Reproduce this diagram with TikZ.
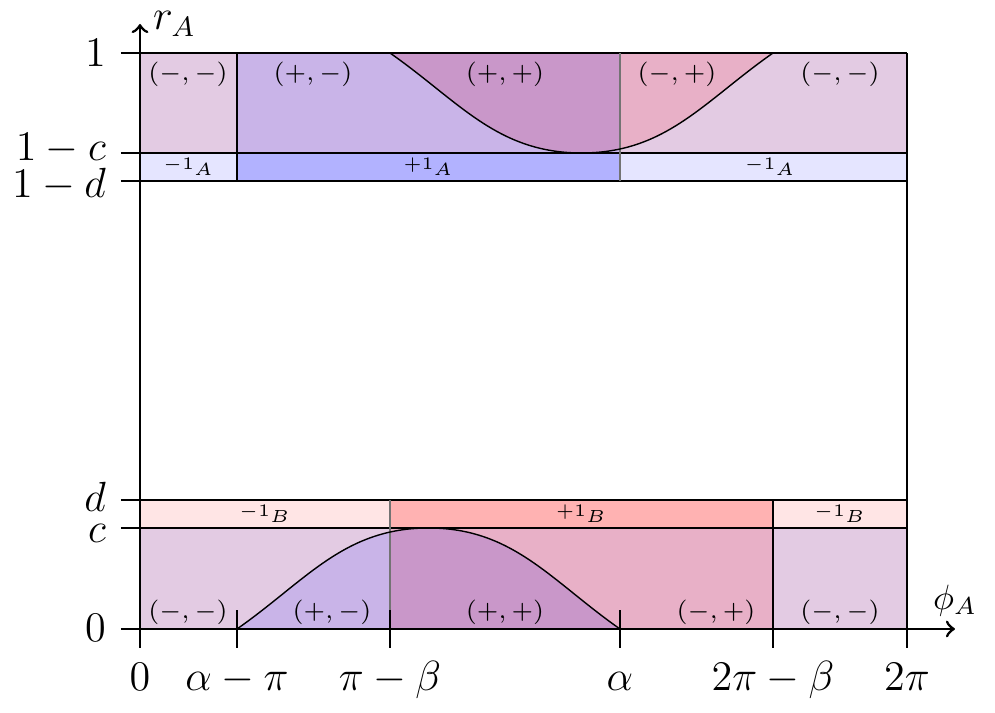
\documentclass[tikz,border=0pt]{standalone}
\usepackage{amssymb,amsmath}
\usepackage{tikz}

\definecolor{mmfill}{HTML}{E3CBE3}
\definecolor{pmfill}{HTML}{C9B4E8}
\definecolor{ppfill}{HTML}{C997C9}
\definecolor{mpfill}{HTML}{E8B0C7}
\newcommand{\lowhump}{(0.97,0) to[out=35,in=180] (2.885,1.01) to[out=0,in=145] (4.80,0)}
\newcommand{\highdip}{(2.50,5.76) to[out=-35,in=180] (4.415,4.76) to[out=0,in=-145] (6.33,5.76)}

\begin{document}
\begin{tikzpicture}[
    axis/.style={thick},
    region/.style={font=\scriptsize},
    striplbl/.style={font=\tiny},
    ticklbl/.style={font=\large},
    ylbl/.style={font=\large, inner sep=1pt, anchor=base east}]
    \useasboundingbox (-1.40,-0.84) rectangle (8.55,6.29);
        % bands
        \fill [mmfill] (0,4.76) rectangle (7.67,5.76);
        \fill [mmfill] (0,0) rectangle (7.67,1.01);
        \fill [pmfill] (0.97,4.76) rectangle (4.80,5.76);
        \fill [mpfill] (2.50,0) rectangle (6.33,1.01);
        \begin{scope}
            \clip (0.97,4.76) rectangle (4.80,5.76);
            \fill [ppfill] \highdip -- cycle;
        \end{scope}
        \begin{scope}
            \clip (4.80,4.76) rectangle (7.67,5.76);
            \fill [mpfill] \highdip -- cycle;
        \end{scope}
        \begin{scope}
            \clip (0,0) rectangle (2.50,1.01);
            \fill [pmfill] \lowhump -- cycle;
        \end{scope}
        \begin{scope}
            \clip (2.50,0) rectangle (6.33,1.01);
            \fill [ppfill] \lowhump -- cycle;
        \end{scope}
        % strips
        \fill [blue!10] (0,4.48) rectangle (0.97,4.76);
        \fill [blue!30] (0.97,4.48) rectangle (4.80,4.76);
        \fill [blue!10] (4.80,4.48) rectangle (7.67,4.76);
        \fill [red!10] (0,1.01) rectangle (2.50,1.29);
        \fill [red!30] (2.50,1.01) rectangle (6.33,1.29);
        \fill [red!10] (6.33,1.01) rectangle (7.67,1.29);
        % edges
        \foreach \y in {1.01,1.29,4.48,4.76,5.76} { \draw (0,\y) -- (7.67,\y); }
        \draw (0.97,4.48) -- (0.97,5.76);
        \draw [black!55] (4.80,4.48) -- (4.80,5.76);
        \draw [black!55] (2.50,0) -- (2.50,1.29);
        \draw (6.33,0) -- (6.33,1.29);
        \draw (7.67,0) -- (7.67,5.76);
        \draw \lowhump;
        \draw \highdip;
        % axes and ticks
        \draw [axis,->] (0,0) -- (8.15,0) node [above] (phiA) {$\phi_A$};
        \draw [axis,->] (0,0) -- (0,6.05) node [right, font=\large] (rA) {$r_A$};
        \foreach \x in {0,0.97,2.50,4.80,6.33,7.67} { \draw [axis] (\x,-0.19) -- (\x,0.19); }
        \foreach \y in {0,1.01,1.29,4.48,4.76,5.76} { \draw [axis] (-0.19,\y) -- (0.19,\y); }
        % tick labels
        \node [ticklbl, anchor=base] (x0) at (0,-0.62) {$0$};
        \node [ticklbl, anchor=base] (x1) at (0.97,-0.62) {$\alpha-\pi$};
        \node [ticklbl, anchor=base] (x2) at (2.50,-0.62) {$\pi-\beta$};
        \node [ticklbl, anchor=base] (x3) at (4.80,-0.62) {$\alpha$};
        \node [ticklbl, anchor=base] (x4) at (6.33,-0.62) {$2\pi-\beta$};
        \node [ticklbl, anchor=base] (x5) at (7.67,-0.62) {$2\pi$};
        \node [ylbl] (y0) at (-0.30,-0.13) {$0$};
        \node [ylbl] (y1) at (-0.30,0.86) {$c$};
        \node [ylbl] (y2) at (-0.30,1.17) {$d$};
        \node [ylbl] (y3) at (-0.30,4.31) {$1-d$};
        \node [ylbl] (y4) at (-0.30,4.68) {$1-c$};
        \node [ylbl] (y5) at (-0.30,5.62) {$1$};
        % region labels
        \node [region] (tmm) at (0.48,5.55) {$(-,-)$};
        \node [region] (tpm) at (1.73,5.55) {$(+,-)$};
        \node [region] (tpp) at (3.65,5.55) {$(+,+)$};
        \node [region] (tmp) at (5.37,5.55) {$(-,+)$};
        \node [region] (tmm2) at (7.00,5.55) {$(-,-)$};
        \node [region] (bmm) at (0.48,0.17) {$(-,-)$};
        \node [region] (bpm) at (1.92,0.17) {$(+,-)$};
        \node [region] (bpp) at (3.65,0.17) {$(+,+)$};
        \node [region] (bmp) at (5.76,0.17) {$(-,+)$};
        \node [region] (bmm2) at (7.00,0.17) {$(-,-)$};
        % strip labels
        \node [striplbl] (am1) at (0.485,4.62) {$-1_A$};
        \node [striplbl] (ap) at (2.885,4.62) {$+1_A$};
        \node [striplbl] (am2) at (6.30,4.62) {$-1_A$};
        \node [striplbl] (bm1) at (1.25,1.15) {$-1_B$};
        \node [striplbl] (bp) at (4.415,1.15) {$+1_B$};
        \node [striplbl] (bm2) at (7.00,1.15) {$-1_B$};
\end{tikzpicture}
\end{document}
